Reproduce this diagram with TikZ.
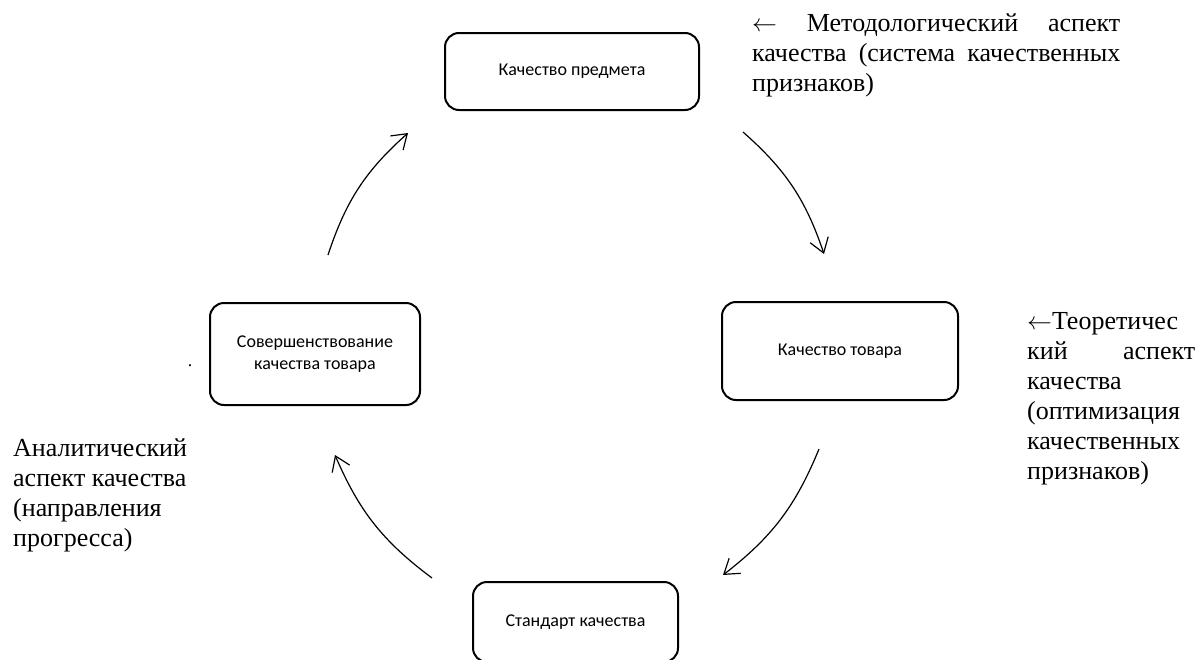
\documentclass[tikz,border=0pt]{standalone}
\usepackage{fontspec}
\setmainfont{Liberation Serif}
\newfontfamily\boxfont{Carlito}
\usetikzlibrary{arrows.meta}
\newcommand{\larr}{\ensuremath{\leftarrow}}
\begin{document}
\begin{tikzpicture}[x=1pt,y=1pt,
  qbox/.style={draw, line width=2pt, rounded corners=14pt, font=\boxfont\fontsize{18}{22}\selectfont, align=center, inner sep=0pt},
  side/.style={font=\fontsize{26}{30}\selectfont, align=left, inner sep=0pt, anchor=north west},
  flow/.style={line width=1.2pt, -{Straight Barb[length=14pt,width=19pt]}, bend left=15},
]
\useasboundingbox (0,0) rectangle (1197,-659);
\fill[white] (0,0) rectangle (1197,-659);
\node[qbox, minimum width=254pt, minimum height=77pt] (pred) at (572,-71.5) {Качество предмета};
\node[qbox, minimum width=236pt, minimum height=98pt] (tov) at (840,-351) {Качество товара};
\node[qbox, minimum width=210pt, minimum height=102pt] (sov) at (315,-354) {Совершенствование\\качества товара};
\node[qbox, minimum width=205pt, minimum height=80pt] (std) at (575.5,-622) {Стандарт качества};
\coordinate (a1s) at (328,-255); \coordinate (a1e) at (408,-133);
\coordinate (a2s) at (743,-132); \coordinate (a2e) at (824,-254);
\coordinate (a3s) at (819,-449); \coordinate (a3e) at (723,-575);
\coordinate (a4s) at (432,-578); \coordinate (a4e) at (335,-455);
\draw[flow] (a1s) to (a1e);
\draw[flow] (a2s) to (a2e);
\draw[flow] (a3s) to (a3e);
\draw[flow] (a4s) to (a4e);
\node[font=\fontsize{18}{22}\selectfont, inner sep=0pt] (dot) at (190,-366) {.};
\node[side] (meth) at (752,-13) {\hbox to 368pt{\larr\hfill Методологический\hfill аспект}\\\hbox to 368pt{качества\hfill (система\hfill качественных}\\признаков)};
\node[side] (theo) at (1027,-312) {\larr Теоретичес\\\hbox to 168pt{кий\hfill аспект}\\качества\\(оптимизация\\качественных\\признаков)};
\node[side] (anal) at (13,-438) {Аналитический\\аспект качества\\(направления\\прогресса)};
\end{tikzpicture}
\end{document}
